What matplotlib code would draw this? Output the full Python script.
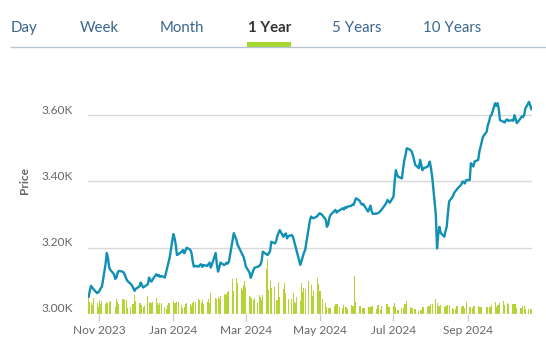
import numpy as np
import pandas as pd
import matplotlib
matplotlib.use("Agg")
import matplotlib.pyplot as plt
import matplotlib.dates as mdates
from matplotlib.transforms import ScaledTranslation
from matplotlib.lines import Line2D
from matplotlib.patches import Rectangle

# one trading year, weekdays
dates = pd.bdate_range("2023-10-23", "2024-10-23")

# closing price, thousands
price = [
    3.052, 3.070, 3.085, 3.080, 3.075,
    3.063, 3.065, 3.070, 3.078, 3.082,
    3.150, 3.184, 3.170, 3.140, 3.133,
    3.120, 3.106, 3.110, 3.125, 3.130,
    3.128, 3.125, 3.118, 3.108, 3.100,
    3.090, 3.085, 3.078, 3.070, 3.076,
    3.083, 3.095, 3.088, 3.080, 3.082,
    3.090, 3.110, 3.100, 3.098, 3.105,
    3.120, 3.115, 3.118, 3.112, 3.115,
    3.110, 3.125, 3.140, 3.155, 3.170,
    3.241, 3.230, 3.210, 3.178, 3.180,
    3.188, 3.193, 3.183, 3.190, 3.200,
    3.194, 3.185, 3.160, 3.143, 3.145,
    3.143, 3.148, 3.150, 3.142, 3.148,
    3.145, 3.150, 3.155, 3.140, 3.150,
    3.184, 3.150, 3.128, 3.140, 3.155,
    3.148, 3.150, 3.155, 3.152, 3.158,
    3.223, 3.244, 3.235, 3.226, 3.210,
    3.188, 3.180, 3.173, 3.160, 3.143,
    3.125, 3.109, 3.120, 3.130, 3.139,
    3.143, 3.145, 3.148, 3.160, 3.188,
    3.180, 3.178, 3.183, 3.190, 3.218,
    3.213, 3.220, 3.235, 3.245, 3.253,
    3.233, 3.240, 3.243, 3.228, 3.235,
    3.238, 3.232, 3.218, 3.205, 3.190,
    3.148, 3.160, 3.173, 3.185, 3.193,
    3.260, 3.284, 3.294, 3.290, 3.289,
    3.295, 3.300, 3.304, 3.302, 3.299,
    3.285, 3.263, 3.270, 3.290, 3.299,
    3.310, 3.314, 3.306, 3.310, 3.312,
    3.319, 3.315, 3.322, 3.320, 3.324,
    3.326, 3.330, 3.329, 3.340, 3.349,
    3.342, 3.334, 3.330, 3.332, 3.326,
    3.309, 3.318, 3.327, 3.310, 3.302,
    3.303, 3.304, 3.306, 3.310, 3.314,
    3.329, 3.335, 3.344, 3.340, 3.336,
    3.354, 3.400, 3.434, 3.420, 3.414,
    3.409, 3.440, 3.465, 3.480, 3.500,
    3.495, 3.490, 3.480, 3.465, 3.450,
    3.440, 3.465, 3.450, 3.434, 3.440,
    3.444, 3.450, 3.460, 3.440, 3.414,
    3.300, 3.198, 3.240, 3.263, 3.245,
    3.233, 3.250, 3.263, 3.304, 3.340,
    3.354, 3.364, 3.370, 3.374, 3.379,
    3.390, 3.400, 3.398, 3.394, 3.404,
    3.404, 3.455, 3.450, 3.445, 3.460,
    3.465, 3.490, 3.505, 3.520, 3.535,
    3.550, 3.570, 3.580, 3.597, 3.600,
    3.636, 3.628, 3.636, 3.620, 3.585,
    3.580, 3.578, 3.585, 3.587, 3.583,
    3.585, 3.583, 3.600, 3.588, 3.576,
    3.590, 3.596, 3.594, 3.600, 3.620,
    3.640, 3.630, 3.618,
]

# daily volume (arbitrary units)
volume = [
    17, 12, 11, 9, 16,
    11, 7, 14, 10, 13,
    10, 12, 11, 12, 13,
    8, 7, 15, 12, 10,
    15, 15, 14, 14, 6,
    7, 10, 10, 19, 13,
    11, 11, 9, 7, 8,
    18, 12, 11, 11, 12,
    16, 11, 9, 11, 11,
    7, 5, 9, 11, 11,
    13, 11, 11, 12, 12,
    9, 6, 7, 10, 11,
    10, 8, 11, 13, 12,
    15, 14, 11, 14, 10,
    12, 15, 11, 21, 15,
    16, 15, 17, 15, 18,
    20, 19, 20, 22, 23,
    35, 23, 22, 36, 31,
    26, 24, 29, 33, 27,
    18, 17, 16, 14, 16,
    11, 19, 17, 14, 19,
    45, 55, 24, 33, 26,
    27, 14, 14, 32, 17,
    25, 31, 21, 15, 15,
    15, 21, 12, 11, 17,
    13, 31, 22, 26, 25,
    33, 23, 29, 18, 23,
    36, 30, 23, 23, 15,
    11, 7, 6, 6, 6,
    8, 10, 10, 10, 7,
    6, 9, 7, 7, 5,
    9, 8, 8, 38, 12,
    8, 8, 6, 6, 6,
    7, 7, 7, 8, 8,
    5, 9, 9, 4, 8,
    8, 10, 10, 7, 7,
    8, 11, 7, 4, 4,
    6, 6, 10, 10, 13,
    7, 6, 6, 5, 5,
    3, 4, 4, 7, 7,
    7, 8, 8, 10, 10,
    15, 11, 8, 8, 9,
    7, 8, 8, 9, 9,
    6, 5, 5, 8, 8,
    7, 8, 8, 6, 12,
    7, 7, 6, 8, 8,
    8, 7, 7, 7, 7,
    7, 7, 7, 7, 9,
    12, 7, 9, 9, 11,
    13, 9, 11, 11, 10,
    10, 10, 10, 10, 6,
    6, 6, 8, 8, 5,
    5, 5, 5,
]

tabs = ["Day", "Week", "Month", "1 Year", "5 Years", "10 Years"]
tab_x = [11, 80, 160, 248, 332, 423]
y_ticks = [3.0, 3.2, 3.4, 3.6]
month_ticks = ["2023-11-01", "2024-01-01", "2024-03-01", "2024-05-01", "2024-07-01", "2024-09-01"]

plt.rcParams["font.family"] = ["Lato", "DejaVu Sans"]

W, H = 546, 342
fig = plt.figure(figsize=(W / 100, H / 100), dpi=100)

# axes: x 88..532 px, y 82..314 px
ax = fig.add_axes([88 / W, (H - 314) / H, 444 / W, 232 / H])
axv = ax.twinx()
ax.set_zorder(axv.get_zorder() + 1)
ax.patch.set_visible(False)

axv.bar(dates, volume, width=0.8, color="#b5d334", linewidth=0)
axv.set_ylim(0, 232)
axv.set_yticks([])
for s in axv.spines.values():
    s.set_visible(False)

ax.plot(dates, price, color="#1190b4", lw=1.7, solid_joinstyle="round")
ax.set_ylim(3.0, 3.7)
ax.set_xlim(dates[0] - pd.Timedelta(hours=12), dates[-1] + pd.Timedelta(hours=12))
ax.set_yticks(y_ticks)
ax.set_yticklabels([f"{v:.2f}K" for v in y_ticks])
ax.grid(axis="y", color="#d8d8d8", lw=1)
ax.tick_params(axis="y", length=0, pad=11, labelsize=8.6, labelcolor="#666666")
off = ScaledTranslation(0, 0.06, fig.dpi_scale_trans)
for lbl in ax.get_yticklabels():
    lbl.set_transform(lbl.get_transform() + off)

ax.set_xticks(pd.to_datetime(month_ticks))
ax.xaxis.set_major_formatter(mdates.DateFormatter("%b %Y"))
ax.tick_params(axis="x", length=5, width=1, color="#cccccc", pad=3,
               labelsize=8.6, labelcolor="#666666")
for s in ax.spines.values():
    s.set_visible(False)

ax.set_ylabel("Price", fontsize=8.6, color="#666666", fontweight="bold")
ax.yaxis.set_label_coords(-58.5 / 444, (314 - 181) / 232)

# range selector tabs
for t, x in zip(tabs, tab_x):
    sel = t == "1 Year"
    fig.text(x / W, 1 - 28 / H, t, ha="left", va="center", fontsize=10.8,
             color="#333333" if sel else "#3a6690",
             fontweight="bold" if sel else "normal")
fig.add_artist(Line2D([11 / W, 1], [1 - 47 / H] * 2, color="#b9c3d6", lw=1))
fig.add_artist(Rectangle((247 / W, 1 - 47.5 / H), 44 / W, 5.5 / H,
                         color="#a6d82e", lw=0))

fig.savefig("out.png", dpi=100)
